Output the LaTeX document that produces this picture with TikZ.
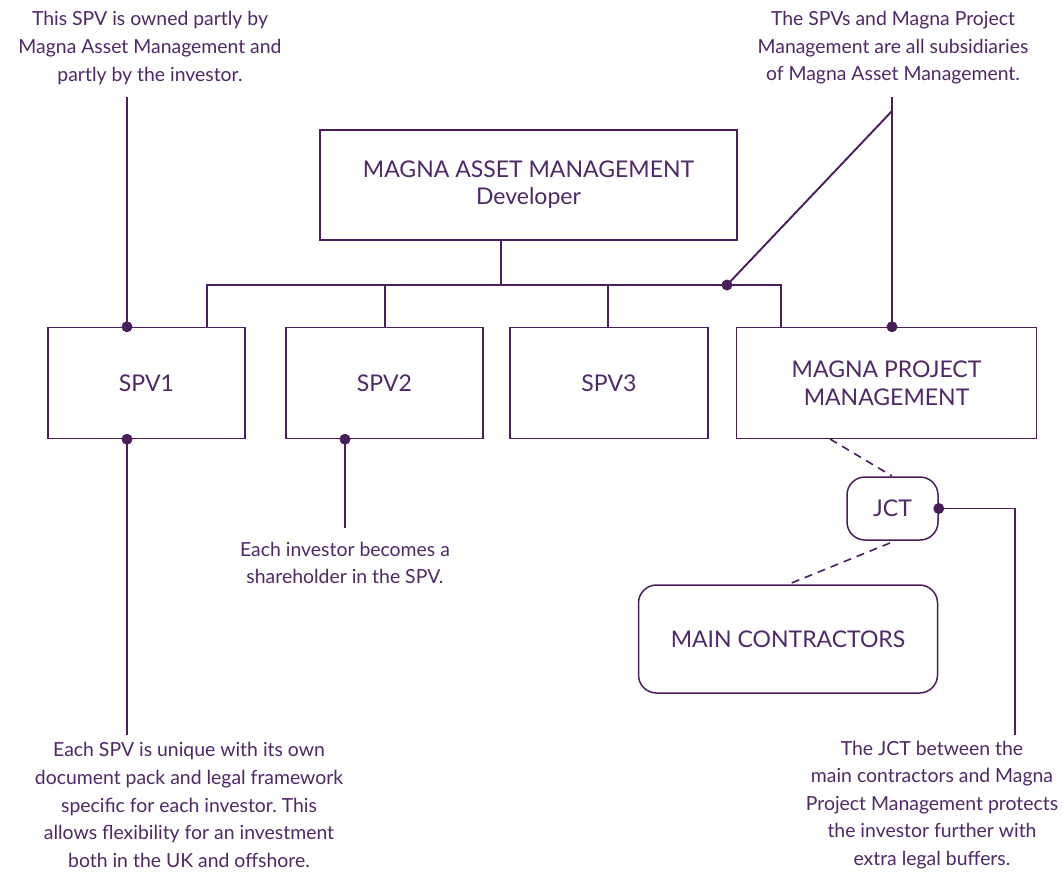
\documentclass[tikz,border=0pt]{standalone}
\usepackage{fontspec}
\setmainfont{Lato}
\frenchspacing
\definecolor{mg}{HTML}{4A1D5C}
\definecolor{mgt}{HTML}{4F2868}
\begin{document}
\begin{tikzpicture}[x=1pt,y=-1pt,
  box/.style={draw=mg,line width=1.5pt,rectangle,text=mgt,align=center,inner sep=0pt,font=\fontsize{23}{28}\selectfont},
  rbox/.style={box,rounded corners=18pt},
  note/.style={text=mgt,align=center,inner sep=0pt,font=\frenchspacing\fontsize{19.4}{27.6}\selectfont},
  conn/.style={draw=mg,line width=1.9pt},
  dash line/.style={draw=mg,line width=1.6pt,dash pattern=on 8pt off 6pt},
  dot/.style={fill=mg,circle,inner sep=0pt,minimum size=11pt}]
\useasboundingbox (0,0) rectangle (1063,876);
\fill[white] (0,0) rectangle (1063,876);

\node[box,minimum width=417pt,minimum height=110pt] (mam) at (528.5,185) {MAGNA ASSET MANAGEMENT\\[-1pt]Developer};
\node[box,minimum width=197pt,minimum height=111pt] (spv1) at (146.5,383) {SPV1};
\node[box,minimum width=197pt,minimum height=111pt] (spv2) at (384.5,383) {SPV2};
\node[box,minimum width=198pt,minimum height=111pt] (spv3) at (609,383) {SPV3};
\node[box,minimum width=300pt,minimum height=111pt] (mpm) at (886.5,383) {MAGNA PROJECT\\MANAGEMENT};
\node[rbox,minimum width=91pt,minimum height=63pt] (jct) at (892.5,508.5) {JCT};
\node[rbox,minimum width=299pt,minimum height=108pt] (mc) at (788,639) {MAIN CONTRACTORS};

\node[note] (n1) at (150,48) {This SPV is owned partly by\\Magna Asset Management and\\partly by the investor.};
\node[note] (n2) at (893,48) {The SPVs and Magna Project\\Management are all subsidiaries\\of Magna Asset Management.};
\node[note] (n3) at (345,563) {Each investor becomes a\\shareholder in the SPV.};
\node[note] (n4) at (189,805) {Each SPV is unique with its own\\document pack and legal framework\\specific for each investor. This\\allows flexibility for an investment\\both in the UK and offshore.};
\node[note] (n5) at (932,805) {The JCT between the\\main contractors and Magna\\Project Management protects\\the investor further with\\extra legal buffers.};

% bus
\coordinate (busM) at (501,285);
\coordinate (bus1) at (207,285);
\coordinate (bus2) at (385,285);
\coordinate (bus3) at (608,285);
\coordinate (bus4) at (781,285);
\draw[conn] (mam.south -| busM) -- (busM);
\draw[conn] (spv1.north -| bus1) -- (bus1) -- (bus4) -- (mpm.north -| bus4);
\draw[conn] (bus2) -- (spv2.north -| bus2);
\draw[conn] (bus3) -- (spv3.north -| bus3);

% subsidiaries annotation
\coordinate (busdot) at (727,285);
\coordinate (sT) at (892,97);
\coordinate (sK) at (892,111);
\draw[conn] (sT) -- (mpm.north -| sT);
\draw[conn] (busdot) -- (sK);
\node[dot] (d1) at (busdot) {};
\node[dot] (d2) at (mpm.north -| sT) {};

% SPV1 annotations
\coordinate (a1) at (127,97);
\coordinate (a2) at (127,735);
\draw[conn] (a1) -- (spv1.north -| a1);
\draw[conn] (spv1.south -| a1) -- (a2);
\node[dot] (d3) at (spv1.north -| a1) {};
\node[dot] (d4) at (spv1.south -| a1) {};

% SPV2 annotation
\coordinate (b1) at (345,528);
\draw[conn] (spv2.south -| b1) -- (b1);
\node[dot] (d5) at (spv2.south -| b1) {};

% JCT
\coordinate (j1) at (830,439);
\coordinate (j2) at (892,476);
\draw[dash line] (j1) -- (j2);
\coordinate (j3) at (890,543);
\coordinate (j4) at (789,584);
\draw[dash line] (j3) -- (j4);
\coordinate (c1) at (1015,735);
\draw[conn] (jct.east) -- (jct.east -| c1) -- (c1);
\node[dot] (d6) at (jct.east) {};
\end{tikzpicture}
\end{document}
